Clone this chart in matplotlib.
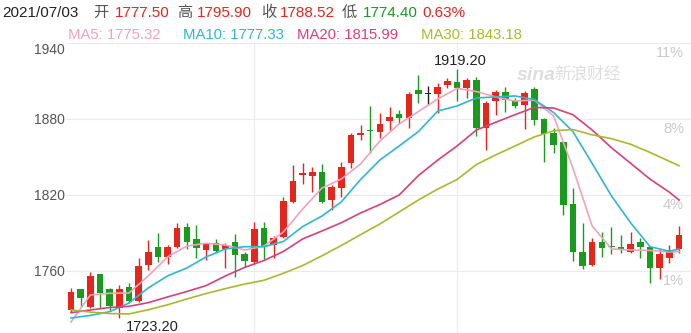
import matplotlib
matplotlib.use("Agg")
import matplotlib.pyplot as plt

plt.rcParams['font.family'] = ['Liberation Sans', 'Noto Sans CJK SC', 'DejaVu Sans']

# daily gold candles (oldest first)
opens = [1729.2, 1745.6, 1731.6, 1757.6, 1745.6, 1730.8, 1747.1, 1736.6, 1764.7, 1778.7,
         1770.8, 1779.2, 1795.0, 1785.0, 1776.6, 1781.9, 1777.1, 1782.7, 1773.4, 1767.3,
         1793.7, 1780.5, 1787.1, 1814.7, 1835.5, 1835.2, 1838.4, 1816.1, 1825.8, 1845.5,
         1867.4, 1871.3, 1869.5, 1878.4, 1883.7, 1881.0, 1902.9, 1899.5, 1899.5, 1906.8,
         1909.4, 1904.2, 1910.8, 1872.7, 1894.2, 1901.1, 1894.2, 1891.1, 1903.5, 1880.0,
         1868.7, 1861.6, 1812.7, 1774.8, 1764.7, 1783.1, 1780.0, 1778.7, 1775.2, 1782.7,
         1778.7, 1762.1, 1770.5, 1777.50]
closes = [1743.7, 1738.9, 1756.1, 1742.9, 1732.4, 1745.6, 1736.6, 1763.9, 1774.8, 1770.8,
          1778.7, 1793.7, 1783.1, 1777.9, 1781.1, 1776.0, 1780.5, 1772.6, 1768.1, 1792.9,
          1779.2, 1786.3, 1815.5, 1831.3, 1837.0, 1837.9, 1814.7, 1826.1, 1842.3, 1867.4,
          1868.7, 1870.3, 1876.1, 1881.8, 1881.0, 1899.7, 1899.5, 1899.5, 1905.5, 1910.0,
          1904.2, 1910.8, 1872.7, 1892.4, 1901.1, 1895.0, 1890.5, 1900.3, 1879.2, 1867.9,
          1859.5, 1812.1, 1774.8, 1764.2, 1782.7, 1778.4, 1778.7, 1776.6, 1781.1, 1778.7,
          1762.1, 1773.4, 1776.6, 1788.52]
highs = [1746.6, 1746.0, 1759.4, 1758.0, 1746.6, 1748.9, 1750.3, 1770.0, 1784.5, 1789.8,
         1780.5, 1797.7, 1798.1, 1796.3, 1782.3, 1785.3, 1781.9, 1789.2, 1775.2, 1798.4,
         1798.9, 1787.9, 1818.2, 1843.7, 1845.5, 1841.9, 1844.2, 1827.9, 1846.3, 1868.7,
         1875.3, 1890.5, 1884.5, 1889.7, 1887.1, 1901.1, 1914.7, 1906.1, 1908.4, 1912.1,
         1919.20, 1912.1, 1913.2, 1894.5, 1902.9, 1905.5, 1896.8, 1902.1, 1905.5, 1880.5,
         1872.7, 1862.0, 1825.8, 1797.7, 1786.3, 1790.6, 1795.0, 1788.4, 1790.6, 1786.3,
         1779.2, 1777.4, 1780.5, 1795.90]
lows = [1727.9, 1731.6, 1730.5, 1730.8, 1728.4, 1723.20, 1735.0, 1735.5, 1760.8, 1766.9,
        1765.5, 1778.5, 1777.1, 1770.0, 1768.7, 1774.0, 1762.1, 1755.5, 1763.4, 1765.5,
        1769.2, 1770.0, 1786.3, 1813.4, 1828.4, 1822.5, 1813.4, 1808.2, 1818.7, 1841.1,
        1863.4, 1852.9, 1864.8, 1871.3, 1875.8, 1873.1, 1892.9, 1891.1, 1884.5, 1904.2,
        1894.2, 1896.3, 1866.6, 1855.5, 1883.2, 1885.3, 1888.5, 1872.1, 1875.3, 1845.8,
        1852.9, 1804.2, 1767.9, 1761.6, 1764.2, 1771.3, 1773.4, 1774.0, 1774.0, 1770.5,
        1750.8, 1753.7, 1766.1, 1774.40]

# moving averages every 2 days (plus the last day)
ma_days = [0, 2, 4, 6, 8, 10, 12, 14, 16, 18, 20, 22, 24, 26, 28, 30, 32,
           34, 36, 38, 40, 42, 44, 46, 48, 50, 52, 54, 56, 58, 60, 62, 63]
ma5 = [1719.7, 1741.1, 1742.4, 1742.6, 1756.1, 1771.1, 1779.7, 1781.9, 1780.5, 1776.6, 1779.7,
       1790.8, 1808.9, 1825.5, 1832.6, 1844.5, 1862.6, 1876.1, 1885.9, 1895.8, 1904.2, 1901.7,
       1897.4, 1894.2, 1895.0, 1882.4, 1841.3, 1795.5, 1777.4, 1776.6, 1776.2, 1775.0, 1775.32]
ma10 = [1722.9, 1724.9, 1727.9, 1734.7, 1746.6, 1756.1, 1762.4, 1771.1, 1777.4, 1779.2, 1779.2,
        1783.3, 1795.1, 1803.4, 1814.5, 1832.2, 1847.6, 1858.7, 1870.1, 1886.3, 1890.3, 1896.6,
        1897.4, 1898.2, 1895.4, 1885.1, 1870.1, 1844.9, 1819.2, 1797.9, 1779.2, 1775.6, 1777.33]
ma20 = [1727.1, 1729.2, 1731.2, 1732.1, 1735.0, 1739.5, 1743.8, 1748.5, 1756.1, 1762.9, 1768.3,
        1775.4, 1785.3, 1791.6, 1798.1, 1805.8, 1812.5, 1820.0, 1835.4, 1847.6, 1858.7, 1871.3,
        1877.4, 1883.4, 1889.1, 1888.7, 1883.4, 1871.3, 1857.3, 1844.9, 1832.5, 1822.2, 1815.99]
ma30 = [1729.2, 1727.6, 1726.4, 1726.1, 1729.4, 1733.3, 1737.9, 1742.2, 1746.1, 1749.7, 1752.7,
        1758.2, 1764.3, 1772.0, 1780.1, 1788.7, 1797.1, 1806.6, 1816.1, 1824.7, 1832.2, 1844.1,
        1851.6, 1858.7, 1865.8, 1870.7, 1871.7, 1867.5, 1864.5, 1860.0, 1853.6, 1846.6, 1843.18]

price_ticks = [1760, 1820, 1880, 1940]
pct_labels = ['1%', '4%', '8%', '11%']
month_starts = [19, 40]
date_label = '2021/07/03'
change_label = '0.63%'

RED = '#e4261c'
GREEN = '#1a9a1f'
ma_colors = {'MA5': '#f3a2bd', 'MA10': '#2fb6d2', 'MA20': '#d8407c', 'MA30': '#a9b92f'}

W, H = 691, 333
fig = plt.figure(figsize=(W / 100, H / 100), dpi=100)
ax = fig.add_axes([66 / W, 0, 1 - 66 / W, 290 / H])

n = len(opens)
ax.set_xlim(-0.52, 64.24)
ax.set_ylim(1711.05, 1940)

for p in price_ticks:
    ax.axhline(p, color='#ebebeb', lw=0.8, zorder=0)
for m in month_starts:
    ax.axvline(m, color='#ebebeb', lw=0.8, zorder=0)

for i in range(n):
    o, c = opens[i], closes[i]
    if c > o:
        col = RED
    elif c < o:
        col = GREEN
    else:
        col = '#222222'
    ax.vlines(i, lows[i], highs[i], color=col, lw=1.0, zorder=2)
    h = max(abs(c - o), 0.9)
    ax.bar(i, h, bottom=min(o, c), width=0.68, color=col, lw=0, zorder=3)

ax.plot(ma_days, ma5, color=ma_colors['MA5'], lw=1.2, zorder=4)
ax.plot(ma_days, ma10, color=ma_colors['MA10'], lw=1.2, zorder=4)
ax.plot(ma_days, ma20, color=ma_colors['MA20'], lw=1.2, zorder=4)
ax.plot(ma_days, ma30, color=ma_colors['MA30'], lw=1.2, zorder=4)

# left price labels
ax.set_yticks(price_ticks)
ax.set_yticklabels([str(p) for p in price_ticks])
ax.tick_params(axis='y', length=0, pad=1, labelsize=10, labelcolor='#555555')
ax.get_yticklabels()[-1].set_verticalalignment('top')
ax.set_xticks([])
for s in ax.spines.values():
    s.set_visible(False)

# right percentage labels
for p, lab in zip(price_ticks, pct_labels):
    ax.annotate(lab, xy=(1, p), xycoords=('axes fraction', 'data'),
                xytext=(-5, -2), textcoords='offset points',
                ha='right', va='top', fontsize=10.5, color='#c9c9c9', zorder=1)

# high / low markers
hi = highs.index(max(highs))
lo = lows.index(min(lows))
ax.annotate(f'{max(highs):.2f}', xy=(hi, max(highs)), xytext=(2, 1),
            textcoords='offset points', ha='center', va='bottom', fontsize=10.5, color='#222222')
ax.annotate(f'{min(lows):.2f}', xy=(lo, min(lows)), xytext=(5, -1.5),
            textcoords='offset points', ha='left', va='top', fontsize=10.5, color='#222222')

# watermark
fig.text(517 / W, 1 - 76 / H, 'sina', fontsize=14, fontweight='bold', fontstyle='italic',
         color='#dedede', va='center', ha='left')
fig.text(554 / W, 1 - 73 / H, '新浪财经', fontsize=12, color='#dedede', va='center', ha='left')

# header
last = n - 1
row1 = [(date_label, 2, '#222222'),
        ('开', 93, '#555555'), (f'{opens[last]:.2f}', 115, RED),
        ('高', 177, '#555555'), (f'{highs[last]:.2f}', 197, RED),
        ('收', 261, '#555555'), (f'{closes[last]:.2f}', 280, RED),
        ('低', 342, '#555555'), (f'{lows[last]:.2f}', 363, GREEN),
        (change_label, 422, RED)]
for txt, x, col in row1:
    fig.text(x / W, 1 - 13 / H, txt, fontsize=11, color=col, va='center', ha='left')

row2 = [(f'MA5: {ma5[-1]:.2f}', 68, ma_colors['MA5']),
        (f'MA10: {ma10[-1]:.2f}', 183, ma_colors['MA10']),
        (f'MA20: {ma20[-1]:.2f}', 297, ma_colors['MA20']),
        (f'MA30: {ma30[-1]:.2f}', 421, ma_colors['MA30'])]
for txt, x, col in row2:
    fig.text(x / W, 1 - 35 / H, txt, fontsize=10.7, color=col, va='center', ha='left')

fig.savefig('out.png', dpi=100, facecolor='white')
